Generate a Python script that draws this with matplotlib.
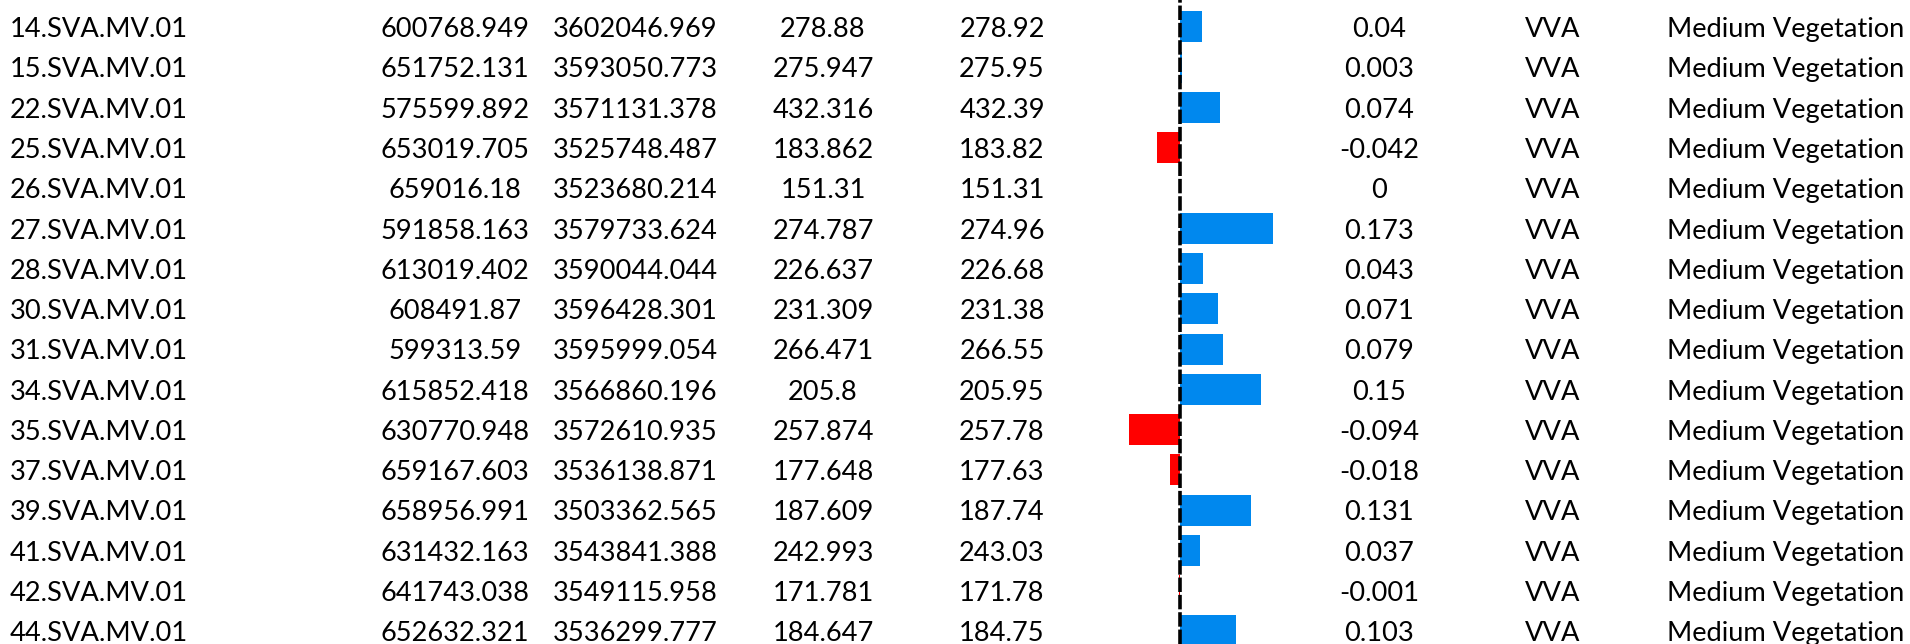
import matplotlib
matplotlib.use("Agg")
import matplotlib.pyplot as plt
import numpy as np

plt.rcParams["font.family"] = ["Lato", "DejaVu Sans"]

# ------------------------------ data ------------------------------ #
point_ids = [
    "14.SVA.MV.01", "15.SVA.MV.01", "22.SVA.MV.01", "25.SVA.MV.01",
    "26.SVA.MV.01", "27.SVA.MV.01", "28.SVA.MV.01", "30.SVA.MV.01",
    "31.SVA.MV.01", "34.SVA.MV.01", "35.SVA.MV.01", "37.SVA.MV.01",
    "39.SVA.MV.01", "41.SVA.MV.01", "42.SVA.MV.01", "44.SVA.MV.01",
]
easting = [
    "600768.949", "651752.131", "575599.892", "653019.705",
    "659016.18", "591858.163", "613019.402", "608491.87",
    "599313.59", "615852.418", "630770.948", "659167.603",
    "658956.991", "631432.163", "641743.038", "652632.321",
]
northing = [
    "3602046.969", "3593050.773", "3571131.378", "3525748.487",
    "3523680.214", "3579733.624", "3590044.044", "3596428.301",
    "3595999.054", "3566860.196", "3572610.935", "3536138.871",
    "3503362.565", "3543841.388", "3549115.958", "3536299.777",
]
known_z = [
    "278.88", "275.947", "432.316", "183.862",
    "151.31", "274.787", "226.637", "231.309",
    "266.471", "205.8", "257.874", "177.648",
    "187.609", "242.993", "171.781", "184.647",
]
laser_z = [
    "278.92", "275.95", "432.39", "183.82",
    "151.31", "274.96", "226.68", "231.38",
    "266.55", "205.95", "257.78", "177.63",
    "187.74", "243.03", "171.78", "184.75",
]
dz = [
    0.04, 0.003, 0.074, -0.042,
    0, 0.173, 0.043, 0.071,
    0.079, 0.15, -0.094, -0.018,
    0.131, 0.037, -0.001, 0.103,
]
dz_labels = [
    "0.04", "0.003", "0.074", "-0.042",
    "0", "0.173", "0.043", "0.071",
    "0.079", "0.15", "-0.094", "-0.018",
    "0.131", "0.037", "-0.001", "0.103",
]
test_type = ["VVA"] * 16
land_cover = ["Medium Vegetation"] * 16
# ------------------------------------------------------------------ #

W, H = 1910, 644
ROW0, ROW_STEP = 26.8, 40.28
n = len(point_ids)
ylim = ((H - ROW0) / ROW_STEP, -ROW0 / ROW_STEP)

fig = plt.figure(figsize=(W / 100, H / 100), dpi=100)
fig.patch.set_facecolor("white")

# text table, x in layout pixels, y in row units
ax = fig.add_axes([0, 0, 1, 1])
ax.set_xlim(0, W)
ax.set_ylim(*ylim)
ax.axis("off")

rows = np.arange(n)
fs = 19.6
dy = 0.07  # nudge text down a little so it sits like the reference
txt = dict(fontsize=fs, va="center", color="black")
for r in rows:
    y = r + dy
    ax.text(10, y, point_ids[r], ha="left", **txt)
    ax.text(455, y, easting[r], ha="center", **txt)
    ax.text(635, y, northing[r], ha="center", **txt)
    ax.text(823, y, known_z[r], ha="center", **txt)
    ax.text(1002, y, laser_z[r], ha="center", **txt)
    ax.text(1379, y, dz_labels[r], ha="center", **txt)
    ax.text(1553, y, test_type[r], ha="center", **txt)
    ax.text(1786, y, land_cover[r], ha="center", **txt)

# bar column: zero at x=1180 px, ~540 px per unit
zero_px, px_per_unit, half_w = 1180, 540, 110
bax = fig.add_axes([(zero_px - half_w) / W, 0, 2 * half_w / W, 1])
bax.set_xlim(-half_w / px_per_unit, half_w / px_per_unit)
bax.set_ylim(*ylim)
bax.axis("off")
colors = ["#0088EE" if v >= 0 else "#FF0000" for v in dz]
bax.barh(rows, dz, height=0.77, color=colors, linewidth=0)
bax.axvline(0, color="black", linewidth=2.6, linestyle=(0, (4, 0.8)), zorder=5)

fig.savefig("out.png", dpi=100, facecolor="white")
